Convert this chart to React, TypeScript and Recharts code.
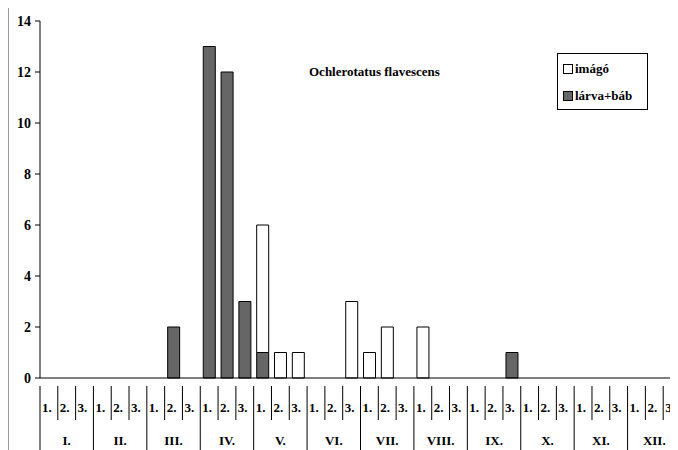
import { Bar, BarChart, XAxis, YAxis } from "recharts"

const months = ["I.", "II.", "III.", "IV.", "V.", "VI.", "VII.", "VIII.", "IX.", "X.", "XI.", "XII."]
const decades = ["1.", "2.", "3."]

// imágó (stacked on top of lárva+báb)
const imagoValues = [
  0, 0, 0, 0, 0, 0, 0, 0, 0, 0, 0, 0,
  5, 1, 1, 0, 0, 3, 1, 2, 0, 2, 0, 0,
  0, 0, 0, 0, 0, 0, 0, 0, 0, 0, 0, 0,
]
const larvaValues = [
  0, 0, 0, 0, 0, 0, 0, 2, 0, 13, 12, 3,
  1, 0, 0, 0, 0, 0, 0, 0, 0, 0, 0, 0,
  0, 0, 1, 0, 0, 0, 0, 0, 0, 0, 0, 0,
]
const yTicks = [0, 2, 4, 6, 8, 10, 12, 14]

const data = larvaValues.map((v, i) => ({
  key: `${months[Math.floor(i / 3)]}${decades[i % 3]}`,
  larva: v,
  imago: imagoValues[i],
}))

const W = 700
const H = 460
const M = { top: 17, right: 28, left: 0, bottom: 0 }
const Y_W = 31
const X_H = 86
const BAND = (W - M.left - M.right - Y_W) / data.length

const serif = '"Liberation Serif", "DejaVu Serif", serif'

function CategoryTick(props: any) {
  const { x, y, index } = props
  const left = x - BAND / 2
  const d = index % 3
  const isMonthStart = d === 0
  return (
    <g>
      <line x1={left} y1={y} x2={left} y2={y + (isMonthStart ? 64 : 34)} stroke="#000" strokeWidth={1} />
      <text x={left + 2} y={y + 26} style={{ fontFamily: serif, fontWeight: 700, fontSize: 13 }} fill="#000">
        {decades[d]}
      </text>
      {d === 1 && (
        <text x={x} y={y + 59} textAnchor="middle" style={{ fontFamily: serif, fontWeight: 700, fontSize: 13 }} fill="#000">
          {months[Math.floor(index / 3)]}
        </text>
      )}
    </g>
  )
}

function LegendBox() {
  const item = (fill: string, label: string) => (
    <div style={{ display: "flex", alignItems: "center", height: 27 }}>
      <span
        style={{
          display: "inline-block",
          width: 8,
          height: 8,
          border: "1px solid #000",
          background: fill,
          marginRight: 2,
        }}
      />
      <span>{label}</span>
    </div>
  )
  return (
    <div
      style={{
        position: "absolute",
        left: 548,
        top: 49,
        border: "1px solid #000",
        width: 84,
        padding: "1px 0 0 5px",
        fontFamily: serif,
        fontWeight: 700,
        fontSize: 13,
        background: "#fff",
        color: "#000",
      }}
    >
      {item("#fff", "imágó")}
      {item("#666", "lárva+báb")}
    </div>
  )
}

export default function App() {
  return (
    <div
      style={{
        position: "relative",
        marginTop: -5,
        width: 670,
        height: 447,
        overflow: "hidden",
        borderTop: "1px solid #999",
        borderLeft: "1px solid #999",
        background: "#fff",
        fontFamily: serif,
      }}
    >
      <BarChart width={W} height={H} data={data} margin={M} barCategoryGap="17%" style={{ fontFamily: serif }}>
        <YAxis
          width={Y_W}
          domain={[0, 14]}
          ticks={yTicks}
          interval={0}
          axisLine={{ stroke: "#000" }}
          tickLine={{ stroke: "#000" }}
          tickSize={5}
          tickMargin={4}
          tick={{ fill: "#000", fontFamily: serif, fontWeight: 700, fontSize: 14 }}
        />
        <XAxis
          dataKey="key"
          height={X_H}
          interval={0}
          axisLine={{ stroke: "#000" }}
          tickLine={false}
          tick={<CategoryTick />}
        />
        <Bar dataKey="larva" stackId="a" name="lárva+báb" fill="#666" stroke="#000" strokeWidth={1} isAnimationActive={false} />
        <Bar dataKey="imago" stackId="a" name="imágó" fill="#fff" stroke="#000" strokeWidth={1} isAnimationActive={false} />
      </BarChart>
      <div
        style={{
          position: "absolute",
          left: 300,
          top: 60,
          fontFamily: serif,
          fontWeight: 700,
          fontSize: 13,
          color: "#000",
        }}
      >
        Ochlerotatus flavescens
      </div>
      <LegendBox />
    </div>
  )
}
